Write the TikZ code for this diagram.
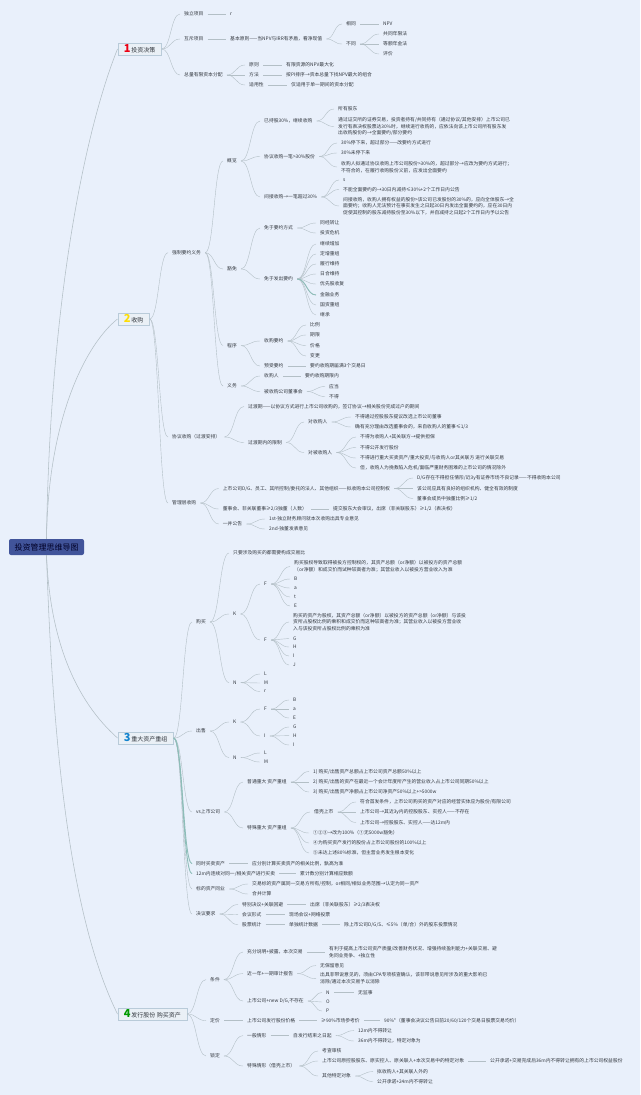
\documentclass[tikz,border=0pt]{standalone}
\usepackage{fontspec}
\usetikzlibrary{calc}
\setmainfont{Noto Sans CJK SC}
\definecolor{bgblue}{HTML}{E9F0FB}
\definecolor{rootblue}{HTML}{41549A}
\definecolor{linegray}{HTML}{B3BFC6}
\definecolor{linetint}{HTML}{8DBDB8}
\definecolor{boxline}{HTML}{B9CBD9}
\definecolor{boxfill}{HTML}{EAF0F6}
\definecolor{inkgray}{HTML}{33383F}
\tikzset{
    item/.style={anchor=west, xshift=-4pt, inner xsep=4pt, inner ysep=0pt, align=left, text=inkgray,
        font=\fontsize{4.8}{6.7}\selectfont},
    mainbox/.style={anchor=west, draw=boxline, line width=0.5pt, fill=boxfill, inner xsep=6pt, inner ysep=0pt,
        minimum height=12pt, text=inkgray, font=\fontsize{6}{7}\selectfont},
    rootbox/.style={fill=rootblue, rounded corners=2pt, minimum width=75pt, minimum height=16pt, inner sep=0pt,
        text=black!85!blue, font=\fontsize{8}{9}\selectfont},
    link/.style={draw=linegray, line width=0.4pt},
    tintlink/.style={draw=linetint, line width=0.9pt},
    trunk/.style={draw=linegray, line width=0.55pt}
}
\newcommand{\bignum}[2]{{\color{#1}\fontsize{11}{10}\selectfont\bfseries #2}\,}
\begin{document}
\begin{tikzpicture}[x=1pt,y=-1pt]
    \fill[bgblue] (0,0) rectangle (640,1095);
    \useasboundingbox (0,0) rectangle (640,1095);

    % Root and main branches
    \node[rootbox] (root) at (46.5,547) {投资管理思维导图};
    \node[mainbox] (mainA) at (117.5,49) {\bignum{red!70!purple}{1}投资决策};
    \node[mainbox] (mainB) at (117.5,319) {\bignum{yellow!80!orange}{2}收购};
    \node[mainbox] (mainC) at (117.5,738) {\bignum{cyan!65!blue}{3}重大资产重组};
    \node[mainbox] (mainD) at (117.5,1014) {\bignum{green!60!black}{4}发行股份 购买资产};

    \draw[trunk] (root.north) .. controls (50,300) and (85,130) .. (mainA.west);
    \draw[trunk] (root.north) .. controls (48,420) and (85,345) .. (mainB.west);
    \draw[trunk] (root.south) .. controls (50,640) and (75,700) .. (mainC.west);
    \draw[trunk] (root.south) .. controls (52,720) and (66,910) .. (mainD.west);

    % 1 investment decisions
    \node[item] (a1) at (184,14) {独立项目};
    \node[item] (a1r) at (230,14) {r};
    \node[item] (a2) at (184,39) {互斥项目};
    \node[item] (a2x) at (230,39) {基本原则——当NPV与IRR有矛盾，看净现值};
    \node[item] (a2s) at (346,24) {相同};
    \node[item] (a2sn) at (383,24) {NPV};
    \node[item] (a2d) at (346,44) {不同};
    \node[item] (a2d1) at (383,34) {共同年限法};
    \node[item] (a2d2) at (383,44) {等额年金法};
    \node[item] (a2d3) at (383,54) {评价};
    \node[item] (a3) at (184,75) {总量有限资本分配};
    \node[item] (a3a) at (249,65) {原则};
    \node[item] (a3ax) at (286,65) {有限资源的NPV最大化};
    \node[item] (a3b) at (249,75) {方法};
    \node[item] (a3bx) at (286,75) {按PI排序→资本总量下找NPV最大的组合};
    \node[item] (a3c) at (249,85) {适用性};
    \node[item] (a3cx) at (291,85) {仅适用于单一期间的资本分配};

    % 2 takeovers: mandatory offer
    \node[item] (b1) at (172,252.7) {强制要约义务};
    \node[item] (b1a) at (227,161) {概览};
    \node[item] (b1a1) at (264,121) {已持股30\%，继续收购};
    \node[item] (b1a1p) at (338,109) {所有股东};
    \node[item] (b1a1q) at (338,126.5) {通过证交所的证券交易，投资者持有/共同持有（通过协议/其他安排）上市公司已\\发行有表决权股票达30\%时，继续进行收购的，应依法向该上市公司所有股东发\\出收购股份的→全面要约/部分要约};
    \node[item] (b1a2) at (264,156.5) {协议收购一笔>30\%股份};
    \node[item] (b1a2p) at (341,143) {30\%停下来，超过部分——改要约方式进行};
    \node[item] (b1a2q) at (341,153) {30\%未停下来};
    \node[item] (b1a2r) at (341,167) {收购人拟通过协议收购上市公司股份>30\%的，超过部分→应改为要约方式进行；\\不符合的，在履行收购股份义前，应发出全面要约};
    \node[item] (b1a3) at (264,197) {间接收购→一笔超过30\%};
    \node[item] (b1a3p) at (343,180) {s};
    \node[item] (b1a3q) at (343,189.5) {不能全面要约的→30日内减持≤30\%+2个工作日内公告};
    \node[item] (b1a3r) at (343,206) {间接收购，收购人拥有权益的股份>该公司已发股份的30\%的，应向全体股东→全\\面要约；收购人无法预计在事实发生之日起30日内发出全面要约的，应在30日内\\促使其控制的股东减持股份至30\%以下，并自减持之日起2个工作日内予以公告};

    \node[item] (b1b) at (227,269) {豁免};
    \node[item] (b1b1) at (264,228) {免于要约方式};
    \node[item] (b1b1p) at (320,223) {同经转让};
    \node[item] (b1b1q) at (320,233) {投资危机};
    \node[item] (b1b2) at (264,279) {免于发出要约};
    \node[item] (b1b2a) at (320,244) {继续增加};
    \node[item] (b1b2b) at (320,254) {定增重组};
    \node[item] (b1b2c) at (320,264) {履行维持};
    \node[item] (b1b2d) at (320,274) {日合维持};
    \node[item] (b1b2e) at (320,284) {优先股收复};
    \node[item] (b1b2f) at (320,295) {金融业务};
    \node[item] (b1b2g) at (320,305) {国资重组};
    \node[item] (b1b2h) at (320,315) {继承};

    \node[item] (b1c) at (227,345.5) {程序};
    \node[item] (b1c1) at (264,341) {收购要约};
    \node[item] (b1c1a) at (310,325) {比例};
    \node[item] (b1c1b) at (310,335) {期限};
    \node[item] (b1c1c) at (310,345.5) {价格};
    \node[item] (b1c1d) at (310,356) {变更};
    \node[item] (b1c2) at (264,366) {预受要约};
    \node[item] (b1c2x) at (310,366) {要约收购期届满3个交易日};

    \node[item] (b1d) at (227,386) {义务};
    \node[item] (b1d1) at (264,376) {收购人};
    \node[item] (b1d1x) at (305,376) {要约收购期限内};
    \node[item] (b1d2) at (264,391.5) {被收购公司董事会};
    \node[item] (b1d2a) at (329,386.5) {应当};
    \node[item] (b1d2b) at (329,396.5) {不得};

    % 2 takeovers: agreement and management buyout
    \node[item] (b2) at (172,437) {协议收购（过渡安排）};
    \node[item] (b2a) at (248,406.5) {过渡期——以协议方式进行上市公司收购的，签订协议→相关股份完成过户的期间};
    \node[item] (b2b) at (248,442.5) {过渡期内的限制};
    \node[item] (b2b1) at (308,422) {对收购人};
    \node[item] (b2b1p) at (355,417) {不得通过控股股东提议改选上市公司董事};
    \node[item] (b2b1q) at (355,427) {确有充分理由改选董事会的，来自收购人的董事≤1/3};
    \node[item] (b2b2) at (308,452.5) {对被收购人};
    \node[item] (b2b2p) at (360,437) {不得为收购人+其关联方→提供担保};
    \node[item] (b2b2q) at (360,447.5) {不得公开发行股份};
    \node[item] (b2b2r) at (360,458) {不得进行重大买卖资产/重大投资/与收购人or其关联方 进行关联交易};
    \node[item] (b2b2s) at (360,468) {但，收购人为挽救陷入危机/面临严重财务困难的上市公司的情况除外};

    \node[item] (b3) at (172,503) {管理层收购};
    \node[item] (b3a) at (222.7,488.5) {上市公司D/G、员工、其所控制/委托的法人、其他组织——拟收购本公司控制权};
    \node[item] (b3a1) at (417,478) {D/G存在不得担任情形/近3y有证券市场不良记录——不得收购本公司};
    \node[item] (b3a2) at (417,488.5) {该公司应具有良好的组织机构、健全有效的制度};
    \node[item] (b3a3) at (417,498.5) {董事会成员中独董比例≥1/2};
    \node[item] (b3b) at (222.7,509) {董事会、非关联董事≥2/3独董（人数）};
    \node[item] (b3bx) at (333,509) {提交股东大会审议，出席（非关联股东）≥1/2（表决权）};
    \node[item] (b3c) at (222.7,524) {一并公告};
    \node[item] (b3c1) at (269,519) {1st-独立财务顾问就本次收购出具专业意见};
    \node[item] (b3c2) at (269,529) {2nd-独董发表意见};

    % 3 major restructuring: buying
    \node[item] (c1) at (196,622) {购买};
    \node[item] (c1a) at (233,553) {只要涉及购买的都需要构成交易比};
    \node[item] (c1k) at (233,614) {K};
    \node[item] (c1kf) at (264,584) {F};
    \node[item] (c1kfx) at (294,566.5) {购买股权导致取得被投方控制权的，其资产总额（or净额）以被投方的资产总额\\ （or净额）和成交价而试种较高者为准；其营业收入以被投方营业收入为准};
    \node[item] (c1kfb) at (294,579) {B};
    \node[item] (c1kfa) at (294,588) {a};
    \node[item] (c1kft) at (294,597) {t};
    \node[item] (c1kfe) at (294,606) {E};
    \node[item] (c1kg) at (264,640) {F};
    \node[item] (c1kgx) at (293,622) {购买的资产为股权，其资产总额（or净额）以被投方的资产总额（or净额）与该投\\资所占股权比例的乘积和成交价而这种较高者为准；其营业收入以被投方营业收\\入与该投资所占股权比例的乘积为准};
    \node[item] (c1kgg) at (293,638.5) {G};
    \node[item] (c1kgh) at (293,647) {H};
    \node[item] (c1kgi) at (293,656) {I};
    \node[item] (c1kgj) at (293,665) {J};
    \node[item] (c1n) at (233,682.6) {N};
    \node[item] (c1nl) at (264,674) {L};
    \node[item] (c1nm) at (264,683) {M};
    \node[item] (c1nr) at (264,691.5) {r};

    % 3 major restructuring: selling
    \node[item] (c2) at (196,731) {出售};
    \node[item] (c2k) at (233,722) {K};
    \node[item] (c2kf) at (264,709) {F};
    \node[item] (c2kfb) at (293,700) {B};
    \node[item] (c2kfa) at (293,709) {a};
    \node[item] (c2kfe) at (293,718) {E};
    \node[item] (c2kg) at (264,736) {I};
    \node[item] (c2kgg) at (293,727) {G};
    \node[item] (c2kgh) at (293,735.6) {H};
    \node[item] (c2kgi) at (293,745) {I};
    \node[item] (c2n) at (233,757.6) {N};
    \node[item] (c2nl) at (264,753) {L};
    \node[item] (c2nm) at (264,762) {M};

    % 3 major restructuring: listed company
    \node[item] (c3) at (196,812) {vs上市公司};
    \node[item] (c3a) at (247,782) {普通重大 资产重组};
    \node[item] (c3a1) at (313,771.5) {1) 购买/出售资产总额占上市公司资产总额50\%以上};
    \node[item] (c3a2) at (313,782) {2) 购买/出售的资产在最近一个会计年度所产生的营业收入占上市公司同期50\%以上};
    \node[item] (c3a3) at (313,792) {3) 购买/出售资产净额占上市公司净资产50\%以上+>5000w};
    \node[item] (c3b) at (247,828) {特殊重大 资产重组};
    \node[item] (c3b1) at (314,812) {借壳上市};
    \node[item] (c3b1p) at (360,802) {符合首发条件，上市公司购买的资产对应的经营实体应为股份/有限公司};
    \node[item] (c3b1q) at (360,812) {上市公司→其近3y内的控股股东、实控人——不存在};
    \node[item] (c3b1r) at (360,822.5) {上市公司→控股股东、实控人——达12m内};
    \node[item] (c3b2) at (313,833) {①②③→改为100\%（①无5000w豁免）};
    \node[item] (c3b3) at (313,843) {④为购买资产发行的股份占上市公司股份的100\%以上};
    \node[item] (c3b4) at (313,853) {⑤未达上述80\%标准，但主营业务发生根本变化};

    \node[item] (c4) at (196,863.6) {同时买卖资产};
    \node[item] (c4x) at (252,863.6) {应分别计算买卖资产的相关比例，孰高为准};
    \node[item] (c5) at (196,873.6) {12m内连续对同一/相关资产进行买卖};
    \node[item] (c5x) at (300,873.6) {累计数分别计算相应数额};
    \node[item] (c6) at (196,889) {标的资产同业};
    \node[item] (c6a) at (252,884) {交易标的资产属同一交易方所有/控制，or相同/相似业务范围→认定为同一资产};
    \node[item] (c6b) at (252,894) {合并计算};
    \node[item] (c7) at (196,914) {决议要求};
    \node[item] (c7a) at (242,904.5) {特别决议+关联回避};
    \node[item] (c7ax) at (310,904.5) {出席（非关联股东）≥2/3表决权};
    \node[item] (c7b) at (242,914.6) {会议形式};
    \node[item] (c7bx) at (289,914.6) {现场会议+网络投票};
    \node[item] (c7c) at (242,924.6) {股票统计};
    \node[item] (c7cx) at (289,924.6) {单独统计数据};
    \node[item] (c7cy) at (344,924.6) {除上市公司D/G/S、≤5\%（单/合）外的股东投票情况};

    % 4 share issue: conditions
    \node[item] (d1) at (210,979.6) {条件};
    \node[item] (d1a) at (247,952) {充分说明+披露，本次交易};
    \node[item] (d1ax) at (329,952) {有利于提高上市公司资产质量/改善财务状况、增强持续盈利能力+关联交易、避\\免同业竞争、+独立性};
    \node[item] (d1b) at (247,973.6) {近一年+一期审计报告};
    \node[item] (d1b1) at (320,965.6) {无保留意见};
    \node[item] (d1b2) at (320,978.7) {出具非带说意见的，须由CPA专项核查确认，该非带说意见所涉及的重大影响已\\消除/通过本次交易予以消除};
    \node[item] (d1c) at (247,1001) {上市公司+new D/G,不存在};
    \node[item] (d1cn) at (326,992.6) {N};
    \node[item] (d1cnx) at (358,992.6) {无监事};
    \node[item] (d1co) at (326,1002) {O};
    \node[item] (d1cp) at (326,1011) {P};

    % 4 share issue: pricing and lock-up
    \node[item] (d2) at (210,1020.6) {定价};
    \node[item] (d2a) at (247,1020.6) {上市公司发行股份价格};
    \node[item] (d2b) at (321,1020.6) {≥90\%市场参考价};
    \node[item] (d2c) at (384,1020.6) {90\%*（董事会决议公告日前20/60/120个交易日股票交易均价）};
    \node[item] (d3) at (210,1056) {锁定};
    \node[item] (d3a) at (247,1035.6) {一般情形};
    \node[item] (d3ax) at (293,1035.6) {自发行结束之日起};
    \node[item] (d3a1) at (358,1030.6) {12m内不得转让};
    \node[item] (d3a2) at (358,1041) {36m内不得转让，特定对象为};
    \node[item] (d3b) at (247,1066) {特殊情形（借壳上市）};
    \node[item] (d3b1) at (322,1051) {考查审核};
    \node[item] (d3b2) at (322,1061) {上市公司原控股股东、原实控人、原关联人+本次交易中的特定对象};
    \node[item] (d3b2x) at (490,1061) {公开承诺+交易完成后36m内不得转让拥有的上市公司权益股份};
    \node[item] (d3b3) at (322,1076) {其他特定对象};
    \node[item] (d3b3p) at (377,1071.6) {拟收购人+其关联人外的};
    \node[item] (d3b3q) at (377,1081.5) {公开承诺+24m内不得转让};

    % Connectors, parent/child
    \foreach \src/\dst in {mainA/a1, mainA/a2, mainA/a3, a1/a1r, a2/a2x, a2x/a2s, a2x/a2d, a2s/a2sn,
        a2d/a2d1, a2d/a2d2, a2d/a2d3, a3/a3a, a3/a3b, a3/a3c, a3a/a3ax, a3b/a3bx, a3c/a3cx,
        mainB/b1, mainB/b2, mainB/b3, b1/b1a, b1/b1b, b1/b1c, b1/b1d,
        b1a/b1a1, b1a/b1a2, b1a/b1a3, b1a1/b1a1p, b1a1/b1a1q, b1a2/b1a2p, b1a2/b1a2q, b1a2/b1a2r,
        b1a3/b1a3p, b1a3/b1a3q, b1a3/b1a3r, b1b/b1b1, b1b/b1b2, b1b1/b1b1p, b1b1/b1b1q,
        b1b2/b1b2a, b1b2/b1b2b, b1b2/b1b2c, b1b2/b1b2d, b1b2/b1b2e, b1b2/b1b2f, b1b2/b1b2g, b1b2/b1b2h,
        b1c/b1c1, b1c/b1c2, b1c1/b1c1a, b1c1/b1c1b, b1c1/b1c1c, b1c1/b1c1d, b1c2/b1c2x,
        b1d/b1d1, b1d/b1d2, b1d1/b1d1x, b1d2/b1d2a, b1d2/b1d2b,
        b2/b2a, b2/b2b, b2b/b2b1, b2b/b2b2, b2b1/b2b1p, b2b1/b2b1q,
        b2b2/b2b2p, b2b2/b2b2q, b2b2/b2b2r, b2b2/b2b2s,
        b3/b3a, b3/b3b, b3/b3c, b3a/b3a1, b3a/b3a2, b3a/b3a3, b3b/b3bx, b3c/b3c1, b3c/b3c2,
        mainC/c1, mainC/c2, mainC/c3, mainC/c6, mainC/c7,
        c1/c1a, c1/c1k, c1/c1n, c1k/c1kf, c1k/c1kg, c1kf/c1kfx, c1kf/c1kfb, c1kf/c1kfa, c1kf/c1kft, c1kf/c1kfe,
        c1kg/c1kgx, c1kg/c1kgg, c1kg/c1kgh, c1kg/c1kgi, c1kg/c1kgj, c1n/c1nl, c1n/c1nm, c1n/c1nr,
        c2/c2k, c2/c2n, c2k/c2kf, c2k/c2kg, c2kf/c2kfb, c2kf/c2kfa, c2kf/c2kfe,
        c2kg/c2kgg, c2kg/c2kgh, c2kg/c2kgi, c2n/c2nl, c2n/c2nm,
        c3/c3a, c3/c3b, c3a/c3a1, c3a/c3a2, c3a/c3a3, c3b/c3b1, c3b/c3b2, c3b/c3b3, c3b/c3b4,
        c3b1/c3b1p, c3b1/c3b1q, c3b1/c3b1r, c4/c4x, c5/c5x, c6/c6a, c6/c6b,
        c7/c7a, c7/c7b, c7/c7c, c7a/c7ax, c7b/c7bx, c7c/c7cx, c7cx/c7cy,
        mainD/d1, mainD/d2, mainD/d3, d1/d1a, d1/d1b, d1/d1c, d1a/d1ax, d1b/d1b1, d1b/d1b2,
        d1c/d1cn, d1c/d1co, d1c/d1cp, d1cn/d1cnx, d2/d2a, d2a/d2b, d2b/d2c,
        d3/d3a, d3/d3b, d3a/d3ax, d3ax/d3a1, d3ax/d3a2, d3b/d3b1, d3b/d3b2, d3b/d3b3,
        d3b2/d3b2x, d3b3/d3b3p, d3b3/d3b3q}
        \draw[link] let \p1=(\src.east), \p2=(\dst.west), \n1={0.5*(\x2-\x1)} in
            (\p1) .. controls (\x1+\n1,\y1) and (\x2-\n1,\y2) .. (\p2);

    % The bundle of close lines reads as one tinted line
    \foreach \src/\dst in {mainC/c4, mainC/c5, b1b2/b1b2f}
        \draw[tintlink] let \p1=(\src.east), \p2=(\dst.west), \n1={0.5*(\x2-\x1)} in
            (\p1) .. controls (\x1+\n1,\y1) and (\x2-\n1,\y2) .. (\p2);
\end{tikzpicture}
\end{document}
